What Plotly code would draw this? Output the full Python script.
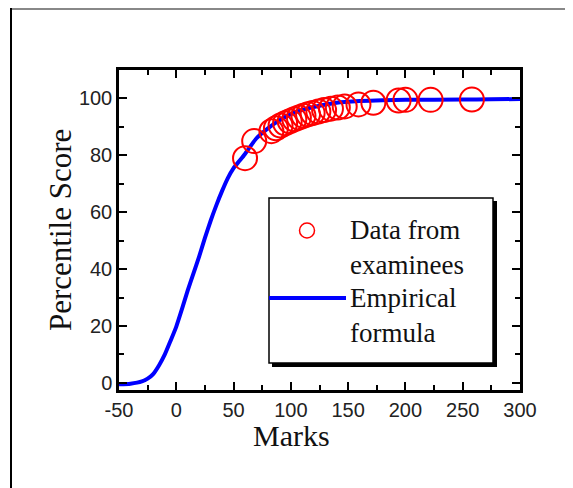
import plotly.graph_objects as go

# ---- data ----
data_marks = [60, 68, 83, 87, 91, 95, 99, 103, 107, 111, 115, 119, 124, 129, 135, 141, 147, 159, 172, 194, 200, 222, 258]
data_score = [79, 85, 88.5, 89.5, 90.5, 91.3, 92, 92.7, 93.3, 93.9, 94.4, 94.9, 95.4, 95.9, 96.4, 96.8, 97.2, 97.9, 98.5, 99.3, 99.5, 99.5, 99.6]

curve_marks = [-50, -40, -30, -25, -20, -15, -10, -5, 0, 5, 10, 15, 20, 25, 30, 35, 40, 45, 50, 55, 60,
               70, 80, 90, 100, 110, 120, 140, 160, 180, 200, 250, 275, 300]
curve_score = [-0.5, -0.3, 0.5, 1.5, 3.2, 6.2, 10, 14.8, 19.8, 26, 32.5, 38.5, 44.5, 51, 57, 62.5, 67.5, 72, 75.5, 78, 80.5,
               86, 89.5, 92.3, 94.5, 96, 97, 98.5, 99.1, 99.4, 99.5, 99.6, 99.7, 99.8]

x_ticks = [-50, 0, 50, 100, 150, 200, 250, 300]
y_ticks = [0, 20, 40, 60, 80, 100]

legend_labels = [["Data from", "examinees"], ["Empirical", "formula"]]

# ---- layout geometry (page pixels; the page body adds an 8px offset) ----
OFF = 8
W, H = 573 - OFF, 488 - OFF
L, R, T, B = 119 - OFF, 520 - OFF, 70 - OFF, 390 - OFF


def px(x):
    return (x - OFF - L) / (R - L)


def py(y):
    return (B - (y - OFF)) / (B - T)


fig = go.Figure()
fig.add_trace(go.Scatter(x=curve_marks, y=curve_score, mode="lines",
                         line=dict(color="#0000ff", width=4, shape="spline", smoothing=0.6),
                         showlegend=False, hoverinfo="skip"))
fig.add_trace(go.Scatter(x=data_marks, y=data_score, mode="markers",
                         marker=dict(symbol="circle-open", size=24, color="#ff0000",
                                     line=dict(color="#ff0000", width=2)),
                         showlegend=False))

axis_common = dict(showgrid=False, zeroline=False, showline=True, linecolor="black", linewidth=2.5,
                   mirror="ticks", ticks="inside", ticklen=8, tickwidth=2, tickcolor="black",
                   tickfont=dict(family="Liberation Sans, Arial", size=20, color="#222"))

fig.update_xaxes(range=[-50, 300], tickvals=x_ticks, ticktext=[str(v) for v in x_ticks],
                 minor=dict(dtick=25, ticks="inside", ticklen=5, tickwidth=2, tickcolor="black"),
                 **axis_common)
fig.update_yaxes(range=[-2.5, 110], tickvals=y_ticks, ticktext=[str(v) for v in y_ticks],
                 minor=dict(dtick=10, ticks="inside", ticklen=5, tickwidth=2, tickcolor="black"),
                 **axis_common)

shapes = []
# outer frame lines
shapes.append(dict(type="line", xref="paper", yref="paper", x0=px(11), x1=px(573), y0=py(9), y1=py(9),
                   line=dict(color="#888888", width=2)))
shapes.append(dict(type="line", xref="paper", yref="paper", x0=px(11), x1=px(11), y0=py(8), y1=py(488),
                   line=dict(color="black", width=2)))
# legend box with shadow
shapes.append(dict(type="rect", xref="paper", yref="paper", x0=px(272), x1=px(497), y0=py(201), y1=py(367),
                   fillcolor="black", line=dict(width=0), layer="above"))
shapes.append(dict(type="rect", xref="paper", yref="paper", x0=px(269), x1=px(493), y0=py(198), y1=py(363),
                   fillcolor="white", line=dict(color="black", width=1.5), layer="above"))
# legend symbols
shapes.append(dict(type="circle", xref="paper", yref="paper", x0=px(299.5), x1=px(314.5), y0=py(223), y1=py(238),
                   line=dict(color="#ff0000", width=1.5), layer="above"))
shapes.append(dict(type="line", xref="paper", yref="paper", x0=px(269), x1=px(346), y0=py(298), y1=py(298),
                   line=dict(color="#0000ff", width=4), layer="above"))

annotations = []
text_font = dict(family="Liberation Serif, Times New Roman", size=27, color="#111")
line_y = [[230, 265], [298, 333]]
for labels, ys in zip(legend_labels, line_y):
    for txt, yy in zip(labels, ys):
        annotations.append(dict(text=txt, xref="paper", yref="paper", x=px(348), y=py(yy),
                                xanchor="left", yanchor="middle", showarrow=False, font=text_font))

annotations.append(dict(text="Marks", xref="paper", yref="paper", x=px(291), y=py(435),
                        xanchor="center", yanchor="middle", showarrow=False,
                        font=dict(family="Liberation Serif, Times New Roman", size=30, color="#111")))
annotations.append(dict(text="Percentile Score", xref="paper", yref="paper", x=px(60), y=py(230),
                        xanchor="center", yanchor="middle", showarrow=False, textangle=-90,
                        font=dict(family="Liberation Serif, Times New Roman", size=31, color="#111")))

fig.update_layout(width=W, height=H, margin=dict(l=L, r=W - R, t=T, b=H - B),
                  paper_bgcolor="white", plot_bgcolor="white",
                  shapes=shapes, annotations=annotations, showlegend=False)

fig.write_html("out.html")
